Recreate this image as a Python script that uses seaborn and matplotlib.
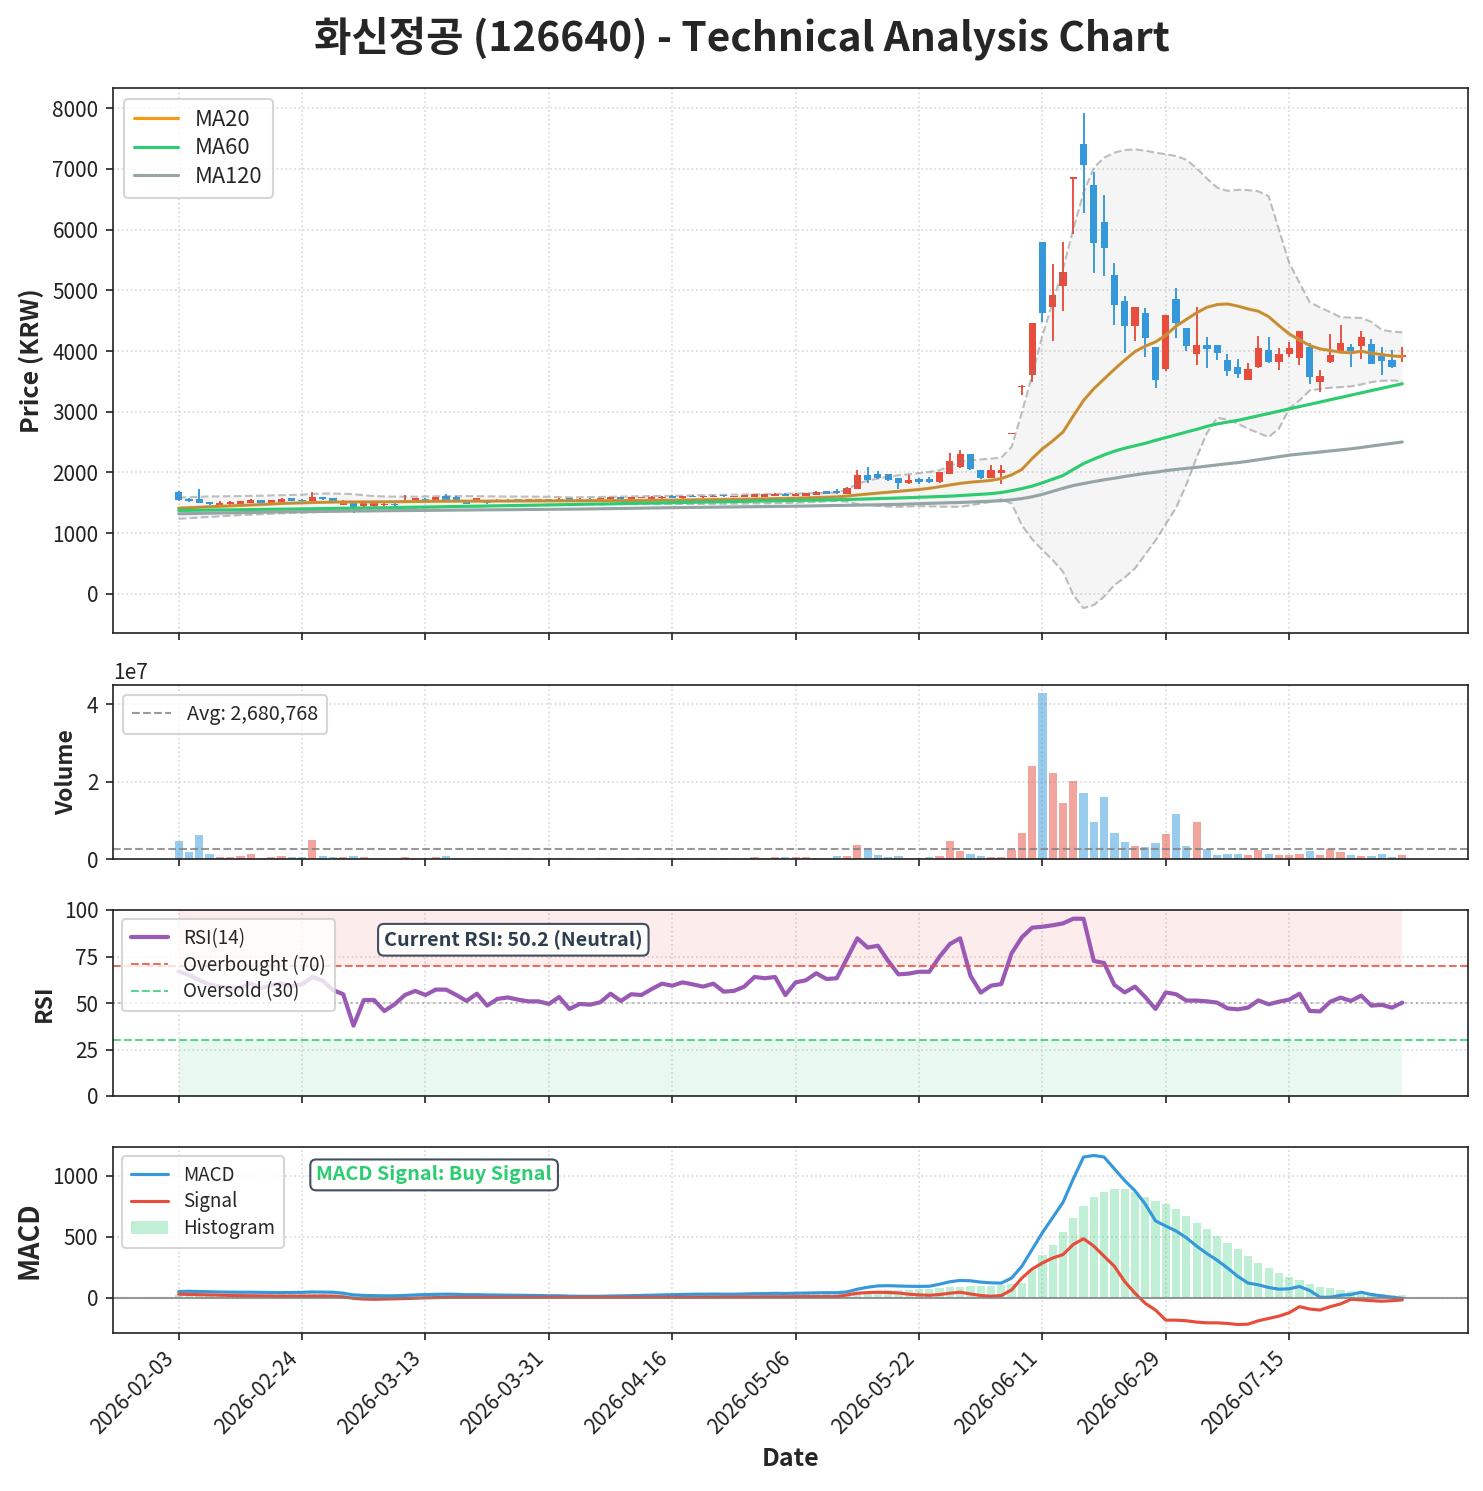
import numpy as np
import pandas as pd
import matplotlib
matplotlib.use("Agg")
import matplotlib.pyplot as plt
import seaborn as sns

# ---------------- data ----------------
title_text = "화신정공 (126640) - Technical Analysis Chart"
tick_labels = ["2026-02-03", "2026-02-24", "2026-03-13", "2026-03-31", "2026-04-16",
               "2026-05-06", "2026-05-22", "2026-06-11", "2026-06-29", "2026-07-15"]

open_ = [1680, 1570, 1560, 1515, 1467, 1478, 1480, 1495, 1545, 1495,
         1505, 1577, 1555, 1533, 1593, 1577, 1467, 1500, 1445, 1448,
         1458, 1489, 1527, 1533, 1566, 1544, 1615, 1599, 1506, 1544,
         1544, 1530, 1555, 1560, 1545, 1550, 1565, 1545, 1575, 1545,
         1570, 1555, 1570, 1590, 1565, 1585, 1571, 1577, 1621, 1577,
         1621, 1590, 1595, 1625, 1595, 1600, 1599, 1600, 1610, 1654,
         1620, 1620, 1635, 1687, 1687, 1643, 1736, 1955, 1971, 1971,
         1911, 1829, 1900, 1900, 1845, 1982, 2091, 2300, 2037, 1917,
         1993, 2640, 3410, 3609, 5799, 4720, 5064, 6840, 7404, 6735,
         6127, 5257, 4830, 4419, 4632, 4074, 3707, 4862, 4380, 3953,
         4107, 4107, 3860, 3745, 3520, 3745, 4024, 3816, 3948, 3887,
         4074, 3488, 3816, 3997, 4074, 4079, 4118, 3926, 3860, 3909]
high = [1700, 1580, 1725, 1520, 1533, 1525, 1535, 1570, 1550, 1550,
        1580, 1580, 1560, 1676, 1598, 1580, 1545, 1505, 1505, 1505,
        1495, 1492, 1626, 1582, 1577, 1598, 1643, 1620, 1510, 1580,
        1550, 1560, 1565, 1570, 1565, 1565, 1570, 1575, 1580, 1575,
        1578, 1580, 1595, 1595, 1595, 1600, 1605, 1610, 1626, 1620,
        1630, 1615, 1625, 1632, 1612, 1630, 1648, 1648, 1670, 1660,
        1660, 1670, 1690, 1695, 1720, 1760, 2037, 2091, 2026, 1975,
        1915, 1955, 1905, 1925, 2012, 2321, 2365, 2305, 2040, 2119,
        2120, 2655, 3435, 4463, 5800, 5432, 5788, 6870, 7923, 6949,
        6571, 5443, 4912, 4731, 4704, 4074, 4600, 5037, 4380, 4731,
        4238, 4107, 3953, 3871, 3806, 4254, 4238, 4052, 4145, 4337,
        4129, 3680, 4282, 4430, 4118, 4337, 4200, 4074, 4024, 4063]
low = [1527, 1520, 1490, 1465, 1462, 1472, 1475, 1490, 1490, 1490,
       1500, 1525, 1520, 1530, 1545, 1530, 1462, 1336, 1440, 1440,
       1450, 1450, 1520, 1528, 1528, 1540, 1550, 1550, 1485, 1510,
       1485, 1520, 1540, 1545, 1540, 1545, 1545, 1540, 1540, 1540,
       1550, 1550, 1565, 1560, 1560, 1580, 1565, 1570, 1580, 1570,
       1590, 1585, 1590, 1600, 1590, 1595, 1595, 1595, 1605, 1605,
       1615, 1615, 1630, 1650, 1650, 1640, 1730, 1829, 1900, 1860,
       1725, 1810, 1805, 1830, 1830, 1975, 2070, 2040, 1890, 1910,
       1818, 2635, 3270, 3483, 4485, 4172, 4665, 5930, 6270, 5278,
       5240, 4430, 3964, 4161, 3899, 3389, 3668, 4211, 4008, 3773,
       3718, 3855, 3586, 3553, 3520, 3718, 3800, 3680, 3899, 3778,
       3455, 3323, 3810, 3990, 3734, 3871, 3783, 3609, 3718, 3816]
close = [1545, 1530, 1495, 1475, 1500, 1515, 1530, 1555, 1495, 1545,
         1568, 1533, 1527, 1598, 1566, 1533, 1530, 1430, 1500, 1500,
         1488, 1467, 1555, 1577, 1533, 1593, 1555, 1555, 1489, 1577,
         1495, 1550, 1545, 1550, 1560, 1560, 1550, 1570, 1545, 1570,
         1555, 1575, 1590, 1565, 1590, 1595, 1599, 1604, 1588, 1615,
         1599, 1610, 1620, 1605, 1605, 1625, 1643, 1643, 1654, 1610,
         1654, 1665, 1680, 1654, 1660, 1752, 1955, 1884, 1917, 1884,
         1829, 1873, 1845, 1845, 2009, 2185, 2300, 2053, 1917, 2037,
         2048, 2650, 3430, 4463, 4621, 4928, 5306, 6866, 7064, 5772,
         5690, 4753, 4408, 4731, 4211, 3515, 4600, 4458, 4078, 4107,
         4036, 3970, 3674, 3618, 3707, 4057, 3827, 3959, 4057, 4337,
         3570, 3581, 3942, 4140, 3997, 4238, 3783, 3832, 3734, 3942]

volume_m = [4.65, 1.8, 6.2, 1.3, 0.5, 0.5, 0.8, 1.3, 0.2, 0.5,
            0.8, 0.5, 0.5, 4.9, 0.8, 0.5, 0.5, 0.8, 0.5, 0.2,
            0.2, 0.2, 0.5, 0.2, 0.2, 0.5, 0.8, 0.3, 0.2, 0.2,
            0.2, 0.15, 0.15, 0.2, 0.15, 0.1, 0.15, 0.2, 0.15, 0.1,
            0.1, 0.15, 0.2, 0.15, 0.1, 0.15, 0.2, 0.2, 0.15, 0.2,
            0.2, 0.15, 0.2, 0.25, 0.2, 0.3, 0.4, 0.2, 0.4, 0.4,
            0.4, 0.4, 0.2, 0.2, 0.8, 0.8, 3.6, 2.8, 1.0, 0.5,
            0.8, 0.3, 0.3, 0.5, 0.8, 4.6, 2.0, 1.3, 0.8, 0.5,
            0.5, 2.3, 6.7, 24.0, 42.9, 22.2, 14.5, 20.1, 17.0, 9.5,
            16.0, 6.7, 4.4, 3.4, 3.1, 4.1, 6.4, 11.6, 3.4, 9.5,
            2.6, 1.0, 1.3, 1.3, 1.0, 2.3, 1.3, 1.0, 1.0, 1.3,
            2.0, 1.0, 2.6, 1.8, 1.0, 0.8, 0.8, 1.3, 0.5, 1.0]
volume_avg = 2680768

ma20 = [1413, 1420, 1428, 1436, 1443, 1450, 1458, 1465, 1472, 1480,
        1489, 1495, 1500, 1505, 1509, 1512, 1514, 1515, 1516, 1516,
        1517, 1518, 1520, 1522, 1524, 1526, 1527, 1528, 1528, 1528,
        1529, 1530, 1530, 1531, 1531, 1532, 1532, 1533, 1533, 1534,
        1535, 1536, 1537, 1538, 1539, 1540, 1542, 1544, 1545, 1547,
        1550, 1552, 1554, 1556, 1558, 1560, 1563, 1566, 1570, 1574,
        1578, 1583, 1588, 1593, 1599, 1612, 1630, 1645, 1660, 1675,
        1690, 1705, 1720, 1740, 1765, 1795, 1820, 1840, 1855, 1870,
        1900, 1960, 2050, 2230, 2390, 2520, 2666, 2930, 3187, 3380,
        3540, 3700, 3850, 3990, 4080, 4150, 4260, 4410, 4520, 4630,
        4720, 4765, 4775, 4740, 4693, 4655, 4567, 4419, 4282, 4184,
        4090, 4035, 4008, 3981, 3970, 3997, 3964, 3942, 3920, 3909]
ma60 = [1375, 1377, 1379, 1381, 1383, 1385, 1387, 1389, 1392, 1394,
        1396, 1398, 1401, 1403, 1406, 1408, 1411, 1413, 1416, 1418,
        1420, 1423, 1426, 1429, 1431, 1434, 1437, 1440, 1443, 1445,
        1448, 1451, 1454, 1457, 1460, 1463, 1466, 1469, 1472, 1475,
        1478, 1481, 1484, 1488, 1491, 1494, 1497, 1500, 1504, 1507,
        1510, 1513, 1516, 1519, 1522, 1525, 1528, 1531, 1534, 1537,
        1540, 1543, 1546, 1549, 1552, 1555, 1560, 1565, 1570, 1575,
        1580, 1586, 1592, 1598, 1604, 1610, 1620, 1630, 1641, 1652,
        1670, 1700, 1735, 1775, 1830, 1890, 1950, 2050, 2147, 2220,
        2290, 2350, 2400, 2440, 2480, 2530, 2575, 2620, 2666, 2710,
        2760, 2800, 2830, 2858, 2896, 2934, 2971, 3009, 3047, 3085,
        3122, 3160, 3198, 3235, 3273, 3311, 3349, 3386, 3424, 3461]
ma120 = [1320, 1323, 1327, 1330, 1333, 1336, 1339, 1342, 1345, 1349,
         1352, 1354, 1356, 1357, 1359, 1361, 1363, 1365, 1366, 1368,
         1370, 1372, 1373, 1375, 1376, 1378, 1379, 1381, 1382, 1384,
         1385, 1386, 1388, 1389, 1391, 1392, 1393, 1395, 1396, 1398,
         1400, 1403, 1405, 1408, 1410, 1413, 1415, 1418, 1420, 1423,
         1425, 1427, 1429, 1431, 1433, 1435, 1437, 1439, 1441, 1443,
         1445, 1448, 1451, 1454, 1457, 1460, 1462, 1465, 1468, 1472,
         1475, 1480, 1486, 1492, 1497, 1502, 1506, 1513, 1520, 1527,
         1535, 1550, 1570, 1600, 1640, 1690, 1740, 1785, 1818, 1850,
         1880, 1905, 1935, 1960, 1985, 2005, 2030, 2050, 2068, 2085,
         2105, 2125, 2145, 2162, 2185, 2210, 2235, 2260, 2285, 2303,
         2320, 2337, 2355, 2372, 2390, 2412, 2435, 2458, 2480, 2502]
bb_upper = [1588, 1592, 1600, 1605, 1608, 1610, 1612, 1615, 1618, 1622,
            1626, 1630, 1636, 1648, 1654, 1654, 1650, 1643, 1625, 1612,
            1605, 1603, 1602, 1603, 1605, 1608, 1610, 1612, 1612, 1610,
            1608, 1606, 1605, 1604, 1603, 1602, 1600, 1596, 1590, 1592,
            1595, 1598, 1600, 1603, 1606, 1609, 1612, 1614, 1616, 1620,
            1624, 1627, 1630, 1633, 1636, 1638, 1640, 1642, 1646, 1650,
            1654, 1657, 1660, 1663, 1668, 1720, 1815, 1865, 1900, 1930,
            1955, 1971, 1990, 2010, 2037, 2110, 2174, 2200, 2215, 2229,
            2245, 2420, 2990, 3600, 4255, 4802, 5350, 6007, 6609, 7019,
            7184, 7266, 7310, 7321, 7300, 7266, 7240, 7211, 7150, 7010,
            6840, 6690, 6637, 6654, 6650, 6630, 6550, 6000, 5450, 5125,
            4802, 4720, 4640, 4556, 4550, 4545, 4480, 4348, 4320, 4309]
bb_lower = [1237, 1248, 1258, 1268, 1278, 1288, 1298, 1305, 1312, 1320,
            1327, 1333, 1338, 1345, 1352, 1360, 1370, 1378, 1392, 1400,
            1405, 1408, 1412, 1416, 1420, 1425, 1430, 1434, 1438, 1442,
            1446, 1450, 1452, 1455, 1458, 1460, 1462, 1466, 1472, 1474,
            1475, 1476, 1477, 1478, 1479, 1480, 1480, 1480, 1481, 1482,
            1482, 1483, 1484, 1485, 1486, 1488, 1490, 1492, 1494, 1498,
            1502, 1508, 1515, 1525, 1532, 1520, 1480, 1465, 1450, 1438,
            1434, 1440, 1445, 1442, 1438, 1436, 1434, 1460, 1490, 1516,
            1560, 1489, 1130, 900, 723, 558, 367, -16, -235, -181,
            -44, 148, 270, 420, 650, 880, 1150, 1420, 1800, 2250,
            2650, 2900, 2870, 2804, 2720, 2650, 2584, 2722, 3050, 3187,
            3351, 3375, 3395, 3405, 3418, 3450, 3488, 3510, 3515, 3504]

rsi = [67.0, 65.0, 62.3, 60.0, 58.8, 57.5, 58.2, 60.4, 58.0, 59.5,
       60.5, 59.0, 60.0, 64.0, 62.0, 57.0, 54.7, 37.8, 51.6, 51.6,
       45.7, 49.3, 54.3, 56.5, 54.3, 57.2, 57.2, 54.3, 51.1, 55.0,
       48.6, 52.2, 53.0, 51.8, 50.9, 50.9, 49.5, 53.2, 46.8, 49.5,
       49.1, 50.4, 55.0, 51.1, 54.7, 54.3, 57.5, 60.4, 59.3, 61.1,
       60.0, 58.8, 60.4, 56.1, 56.5, 58.8, 64.0, 63.3, 64.0, 54.3,
       61.1, 62.2, 66.0, 62.9, 63.3, 74.0, 84.8, 79.8, 80.8, 72.6,
       65.4, 65.8, 66.8, 66.8, 74.9, 81.7, 84.8, 64.7, 55.6, 59.3,
       60.2, 76.7, 85.3, 90.5, 91.0, 91.8, 92.8, 95.3, 95.3, 72.6,
       71.5, 59.7, 55.7, 58.8, 53.2, 46.8, 55.7, 54.7, 51.3, 51.3,
       50.9, 50.2, 47.1, 46.6, 47.5, 51.4, 49.3, 50.7, 51.8, 55.0,
       45.7, 45.5, 50.7, 52.9, 51.1, 54.0, 48.6, 49.0, 47.5, 50.2]

macd = [50, 52, 50, 48, 46, 45, 44, 44, 43, 42,
        41, 42, 43, 46, 45, 44, 36, 22, 18, 16,
        14, 15, 18, 22, 25, 27, 28, 27, 24, 24,
        22, 21, 20, 19, 18, 17, 15, 15, 12, 11,
        11, 11, 13, 14, 16, 18, 20, 22, 24, 26,
        28, 28, 29, 28, 28, 30, 32, 33, 35, 34,
        36, 37, 39, 40, 40, 47, 69, 85, 96, 98,
        95, 93, 92, 93, 110, 130, 141, 138, 127, 121,
        119, 160, 257, 395, 533, 657, 781, 974, 1153, 1166,
        1153, 1056, 960, 877, 767, 629, 587, 546, 491, 422,
        361, 306, 243, 174, 119, 105, 83, 69, 72, 91,
        58, 3, 3, 19, 25, 44, 25, 14, 3, -6]
signal = [28, 26, 24, 22, 20, 18, 16, 15, 14, 13,
          12, 12, 12, 13, 13, 12, 6, -6, -12, -14,
          -12, -10, -8, -5, -2, 0, 2, 3, 3, 3,
          3, 3, 3, 3, 3, 3, 3, 3, 3, 3,
          3, 3, 3, 3, 3, 3, 3, 3, 3, 3,
          3, 4, 4, 5, 5, 6, 6, 7, 7, 7,
          8, 8, 8, 8, 8, 22, 36, 41, 44, 42,
          38, 28, 22, 19, 25, 36, 44, 30, 17, 11,
          17, 63, 160, 235, 284, 325, 353, 436, 483, 422,
          339, 257, 132, 36, -47, -102, -185, -185, -190, -201,
          -207, -207, -212, -221, -218, -190, -171, -152, -124, -74,
          -94, -102, -74, -52, -14, -19, -25, -30, -25, -19]
hist = [22, 26, 26, 26, 26, 27, 28, 29, 29, 29,
        29, 30, 31, 33, 32, 32, 30, 28, 30, 30,
        26, 25, 26, 27, 27, 27, 26, 24, 21, 21,
        19, 18, 17, 16, 15, 14, 12, 12, 9, 8,
        8, 8, 10, 11, 13, 15, 17, 19, 21, 23,
        25, 25, 26, 25, 24, 24, 26, 27, 28, 27,
        28, 29, 31, 32, 32, 30, 40, 50, 58, 62,
        64, 66, 68, 70, 78, 85, 90, 92, 95, 98,
        102, 112, 119, 229, 353, 428, 538, 649, 753, 822,
        864, 891, 891, 864, 822, 795, 767, 726, 671, 615,
        560, 505, 444, 395, 339, 284, 243, 201, 168, 141,
        113, 91, 77, 63, 55, 44, 36, 30, 25, 19]

# ---------------- style ----------------
sns.set_theme(style="whitegrid")
plt.rcParams["font.family"] = ["Noto Sans CJK KR", "DejaVu Sans"]
plt.rcParams.update({
    "axes.edgecolor": "#222222", "axes.linewidth": 0.8,
    "xtick.bottom": True, "ytick.left": True,
    "xtick.major.size": 3.5, "ytick.major.size": 3.5,
    "xtick.major.width": 0.8, "ytick.major.width": 0.8,
    "xtick.color": "#222222", "ytick.color": "#222222",
    "xtick.labelsize": 10, "ytick.labelsize": 10,
    "grid.linestyle": ":", "grid.color": "#d8d8d8", "grid.linewidth": 0.8,
    "axes.unicode_minus": False,
})

RED, BLUE = "#e74c3c", "#3498db"

df = pd.DataFrame({"open": open_, "high": high, "low": low, "close": close,
                   "volume": np.array(volume_m) * 1e6,
                   "ma20": ma20, "ma60": ma60, "ma120": ma120,
                   "bb_upper": bb_upper, "bb_lower": bb_lower,
                   "rsi": rsi, "macd": macd, "signal": signal, "hist": hist})
df["idx"] = np.arange(len(df))
up = df["close"] >= df["open"]
cols = np.where(up, RED, BLUE)

W, H = 1483, 1491
fig = plt.figure(figsize=(W / 150, H / 150), dpi=150)
L, Wd = 113 / W, 1355 / W
ax1 = fig.add_axes([L, 1 - 633 / H, Wd, 545 / H])
ax2 = fig.add_axes([L, 1 - 859 / H, Wd, 174 / H], sharex=ax1)
ax3 = fig.add_axes([L, 1 - 1096 / H, Wd, 186 / H], sharex=ax1)
ax4 = fig.add_axes([L, 1 - 1333 / H, Wd, 186 / H], sharex=ax1)

leg_kw = dict(labelspacing=0.3, handletextpad=0.8, borderpad=0.45)

# ---- price panel ----
ax1.fill_between(df["idx"], df["bb_lower"], df["bb_upper"], color="gray", alpha=0.08, linewidth=0)
ax1.vlines(df["idx"], df["low"], df["high"], colors=cols, linewidth=0.9)
body_bot = np.minimum(df["open"], df["close"])
body_h = np.maximum(np.abs(df["close"] - df["open"]), 8)
ax1.bar(df["idx"], body_h, bottom=body_bot, width=0.7, color=cols, linewidth=0)
sns.lineplot(data=df, x="idx", y="bb_upper", ax=ax1, color="gray", linestyle="--", linewidth=1.0, alpha=0.5)
sns.lineplot(data=df, x="idx", y="bb_lower", ax=ax1, color="gray", linestyle="--", linewidth=1.0, alpha=0.5)
sns.lineplot(data=df, x="idx", y="ma20", ax=ax1, color="#f39c12", linewidth=1.5, label="MA20")
sns.lineplot(data=df, x="idx", y="ma60", ax=ax1, color="#2ecc71", linewidth=1.5, label="MA60")
sns.lineplot(data=df, x="idx", y="ma120", ax=ax1, color="#95a5a6", linewidth=1.5, label="MA120")
sns.lineplot(data=df, x="idx", y="ma20", ax=ax1, color="gray", linewidth=1.0, alpha=0.5)
ax1.legend(loc="upper left", fontsize=10.5, **leg_kw)
ax1.set_yticks(range(0, 9000, 1000))
ax1.set_ylabel("Price (KRW)", fontsize=12, fontweight="bold")
ax1.set_xlabel("")

# ---- volume panel ----
ax2.bar(df["idx"], df["volume"], width=0.8, color=cols, alpha=0.5, linewidth=0)
ax2.axhline(volume_avg, color="gray", linestyle="--", linewidth=1, alpha=0.8,
            label=f"Avg: {volume_avg:,.0f}")
ax2.legend(loc="upper left", fontsize=9.5, **leg_kw)
ax2.set_yticks([0, 2e7, 4e7])
ax2.set_ylabel("Volume", fontsize=11, fontweight="bold")
ax2.set_xlabel("")

# ---- RSI panel ----
ax3.fill_between(df["idx"], 70, 100, color=RED, alpha=0.1, linewidth=0)
ax3.fill_between(df["idx"], 0, 30, color="#2ecc71", alpha=0.1, linewidth=0)
sns.lineplot(data=df, x="idx", y="rsi", ax=ax3, color="#9b59b6", linewidth=2, label="RSI(14)")
ax3.axhline(70, color=RED, linestyle="--", linewidth=1, alpha=0.8, label="Overbought (70)")
ax3.axhline(30, color="#2ecc71", linestyle="--", linewidth=1, alpha=0.8, label="Oversold (30)")
ax3.axhline(50, color="gray", linestyle=":", linewidth=1, alpha=0.5)
ax3.set_ylim(0, 100)
ax3.set_yticks([0, 25, 50, 75, 100])
ax3.legend(loc="upper left", fontsize=9, **leg_kw)
cur_rsi = rsi[-1]
status = "Overbought" if cur_rsi > 70 else ("Oversold" if cur_rsi < 30 else "Neutral")
ax3.text(0.2, 0.84, f"Current RSI: {cur_rsi:.1f} ({status})", transform=ax3.transAxes,
         fontsize=9.5, fontweight="bold", color="#2c3e50", va="center", ha="left",
         bbox=dict(boxstyle="round,pad=0.3", facecolor="white", edgecolor="#2c3e50", alpha=0.9))
ax3.set_ylabel("RSI", fontsize=11, fontweight="bold")
ax3.set_xlabel("")

# ---- MACD panel ----
hcols = np.where(df["hist"] >= 0, "#2ecc71", RED)
sns.lineplot(data=df, x="idx", y="macd", ax=ax4, color="#3498db", linewidth=1.5, label="MACD")
sns.lineplot(data=df, x="idx", y="signal", ax=ax4, color=RED, linewidth=1.5, label="Signal")
ax4.bar(df["idx"], df["hist"], width=0.8, color=hcols, alpha=0.3, linewidth=0, label="Histogram")
ax4.axhline(0, color="gray", linewidth=1, alpha=0.8)
ax4.legend(loc="upper left", fontsize=9, **leg_kw)
sig_txt = "Buy Signal" if macd[-1] > signal[-1] else "Sell Signal"
ax4.text(0.15, 0.85, f"MACD Signal: {sig_txt}", transform=ax4.transAxes,
         fontsize=9.5, fontweight="bold", color="#2ecc71" if macd[-1] > signal[-1] else RED,
         va="center", ha="left",
         bbox=dict(boxstyle="round,pad=0.3", facecolor="white", edgecolor="#2c3e50", alpha=0.9))
ax4.set_yticks([0, 500, 1000])
ax4.set_ylabel("MACD", fontsize=13, fontweight="bold")

tick_pos = np.arange(0, len(df), 12)[:len(tick_labels)]
ax4.set_xticks(tick_pos)
ax4.set_xticklabels(tick_labels, rotation=45, ha="right")
ax4.set_xlabel("Date", fontsize=12, fontweight="bold")
for ax in (ax1, ax2, ax3):
    ax.tick_params(labelbottom=False)

fig.text(0.5, 1 - 38 / H, title_text, ha="center", va="center", fontsize=19.5, fontweight="bold")

fig.savefig("out.png", dpi=150)
